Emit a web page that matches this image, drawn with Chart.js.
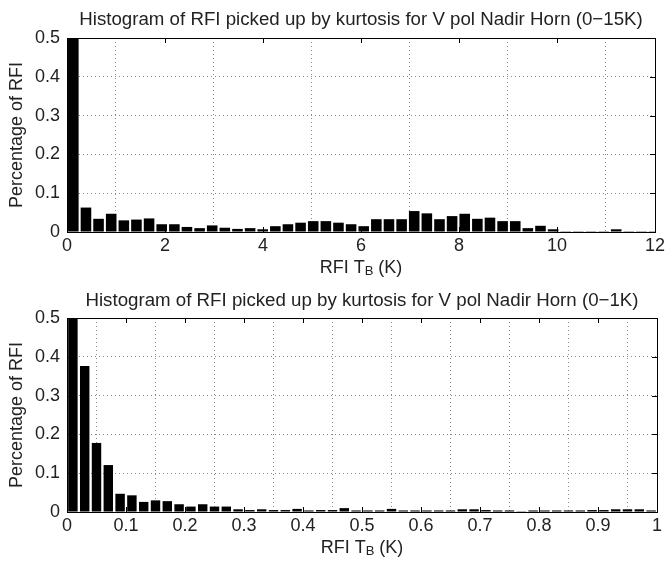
<!DOCTYPE html>
<html>
<head>
<meta charset="utf-8">
<script src="https://cdn.jsdelivr.net/npm/chart.js@4.4.1/dist/chart.umd.min.js"></script>
<style>
    body { margin: 0; background: #fff; }
    .box { position: relative; width: 668px; }
</style>
</head>
<body>
<div class="box" style="height:280px"><canvas id="topChart"></canvas></div>
<div class="box" style="height:281px"><canvas id="bottomChart"></canvas></div>
<script>
// ---- data ----
const topTitle = "Histogram of RFI picked up by kurtosis for V pol Nadir Horn (0\u221215K)";
const bottomTitle = "Histogram of RFI picked up by kurtosis for V pol Nadir Horn (0\u22121K)";

// bin centres, K
const topCenters = [
    0.129, 0.387, 0.644, 0.902, 1.160, 1.417, 1.675, 1.933, 2.191, 2.448,
    2.706, 2.963, 3.221, 3.479, 3.737, 3.994, 4.252, 4.509, 4.767, 5.025,
    5.283, 5.540, 5.798, 6.056, 6.313, 6.571, 6.829, 7.086, 7.344, 7.602,
    7.859, 8.117, 8.375, 8.632, 8.890, 9.148, 9.405, 9.663, 9.921, 10.178,
    10.436, 10.694, 10.951, 11.209, 11.467, 11.724, 11.982
];
const topValues = [
    0.52, 0.063, 0.034, 0.047, 0.030, 0.032, 0.035, 0.020, 0.020, 0.013,
    0.010, 0.017, 0.011, 0.008, 0.010, 0.007, 0.015, 0.020, 0.024, 0.028,
    0.028, 0.024, 0.020, 0.015, 0.033, 0.033, 0.033, 0.054, 0.048, 0.033,
    0.041, 0.047, 0.034, 0.037, 0.028, 0.028, 0.010, 0.016, 0.007, 0.002,
    0.002, 0.002, 0.002, 0.007, 0.002, 0.002, 0.002
];

const bottomCenters = [
    0.01, 0.03, 0.05, 0.07, 0.09, 0.11, 0.13, 0.15, 0.17, 0.19,
    0.21, 0.23, 0.25, 0.27, 0.29, 0.31, 0.33, 0.35, 0.37, 0.39,
    0.41, 0.43, 0.45, 0.47, 0.49, 0.51, 0.53, 0.55, 0.57, 0.59,
    0.61, 0.63, 0.65, 0.67, 0.69, 0.71, 0.73, 0.75, 0.77, 0.79,
    0.81, 0.83, 0.85, 0.87, 0.89, 0.91, 0.93, 0.95, 0.97, 0.99
];
const bottomValues = [
    0.52, 0.376, 0.178, 0.121, 0.047, 0.043, 0.026, 0.030, 0.028, 0.020,
    0.014, 0.020, 0.014, 0.014, 0.007, 0.005, 0.007, 0.005, 0.005, 0.008,
    0.004, 0.005, 0.005, 0.010, 0.004, 0.004, 0.004, 0.008, 0.004, 0.004,
    0.004, 0.004, 0.004, 0.007, 0.007, 0.005, 0.004, 0.004, 0.002, 0.004,
    0.004, 0.004, 0.004, 0.004, 0.005, 0.005, 0.007, 0.007, 0.007, 0.004
];

const topXTicks = [0, 2, 4, 6, 8, 10, 12];
const bottomXTicks = [0, 0.1, 0.2, 0.3, 0.4, 0.5, 0.6, 0.7, 0.8, 0.9, 1];
const yTicks = [0, 0.1, 0.2, 0.3, 0.4, 0.5];

const FONT = "'Liberation Sans', Arial, sans-serif";

// matlab style box, inward ticks and the "RFI T_B (K)" label
const matlabAxes = {
    id: "matlabAxes",
    afterDraw(chart) {
        const ctx = chart.ctx;
        const a = chart.chartArea;
        const xs = chart.scales.x;
        const ys = chart.scales.y;
        ctx.save();
        ctx.strokeStyle = "#000";
        ctx.lineWidth = 1;
        ctx.strokeRect(Math.round(a.left) + 0.5, Math.round(a.top) + 0.5,
            Math.round(a.right - a.left), Math.round(a.bottom - a.top));
        ctx.beginPath();
        xs.ticks.forEach(t => {
            const px = Math.round(xs.getPixelForValue(t.value)) + 0.5;
            ctx.moveTo(px, a.bottom); ctx.lineTo(px, a.bottom - 5);
            ctx.moveTo(px, a.top); ctx.lineTo(px, a.top + 5);
        });
        ys.ticks.forEach(t => {
            const py = Math.round(ys.getPixelForValue(t.value)) + 0.5;
            ctx.moveTo(a.left, py); ctx.lineTo(a.left + 5, py);
            ctx.moveTo(a.right, py); ctx.lineTo(a.right - 5, py);
        });
        ctx.stroke();

        // x title with subscript B
        const big = "18px " + FONT;
        const small = "13px " + FONT;
        const p1 = "RFI T", p2 = "B", p3 = " (K)";
        ctx.font = big;
        const w1 = ctx.measureText(p1).width;
        const w3 = ctx.measureText(p3).width;
        ctx.font = small;
        const w2 = ctx.measureText(p2).width;
        const total = w1 + w2 + w3;
        let x = (a.left + a.right) / 2 - total / 2;
        const y = a.bottom + 36;
        ctx.fillStyle = "#222";
        ctx.textBaseline = "middle";
        ctx.textAlign = "left";
        ctx.font = big;
        ctx.fillText(p1, x, y);
        x += w1;
        ctx.font = small;
        ctx.fillText(p2, x, y + 3);
        x += w2;
        ctx.font = big;
        ctx.fillText(p3, x, y);
        ctx.restore();
    }
};

function makeChart(id, title, centers, values, xTicks, xMax, frac, titlePadTop, xAxisHeight) {
    return new Chart(document.getElementById(id), {
        type: "bar",
        data: {
            datasets: [{
                data: centers.map((c, i) => ({ x: c, y: values[i] })),
                backgroundColor: "#000",
                borderWidth: 0,
                barPercentage: 1,
                categoryPercentage: frac
            }]
        },
        options: {
            responsive: true,
            maintainAspectRatio: false,
            animation: false,
            layout: { padding: { left: 0, right: 11, top: 0, bottom: 0 } },
            plugins: {
                legend: { display: false },
                tooltip: { enabled: false },
                title: {
                    display: true,
                    fullSize: false,
                    text: title,
                    color: "#222",
                    font: { family: FONT, size: 18.7, weight: "normal" },
                    padding: { top: titlePadTop, bottom: 15.56 - titlePadTop }
                }
            },
            scales: {
                x: {
                    type: "linear",
                    min: 0,
                    max: xMax,
                    offset: false,
                    afterBuildTicks: s => { s.ticks = xTicks.map(v => ({ value: v })); },
                    afterFit: s => { s.height = xAxisHeight; },
                    ticks: {
                        color: "#222",
                        padding: 3,
                        maxRotation: 0,
                        font: { family: FONT, size: 18 },
                        callback: v => String(Math.round(v * 10) / 10)
                    },
                    grid: { color: "#8a8a8a", drawTicks: false },
                    border: { display: false, dash: [1, 3] }
                },
                y: {
                    min: 0,
                    max: 0.5,
                    afterBuildTicks: s => { s.ticks = yTicks.map(v => ({ value: v })); },
                    afterFit: s => { s.width = 67; },
                    ticks: {
                        color: "#222",
                        padding: 7,
                        font: { family: FONT, size: 18 },
                        callback: v => String(Math.round(v * 10) / 10)
                    },
                    grid: { color: "#8a8a8a", drawTicks: false },
                    border: { display: false, dash: [1, 3] },
                    title: {
                        display: true,
                        text: "Percentage of RFI",
                        color: "#222",
                        font: { family: FONT, size: 18 },
                        padding: { top: 6, bottom: 0 }
                    }
                }
            }
        },
        plugins: [matlabAxes]
    });
}

makeChart("topChart", topTitle, topCenters, topValues, topXTicks, 12, 0.84, 9, 48);
makeChart("bottomChart", bottomTitle, bottomCenters, bottomValues, bottomXTicks, 1, 0.8, 10, 49);
</script>
</body>
</html>
